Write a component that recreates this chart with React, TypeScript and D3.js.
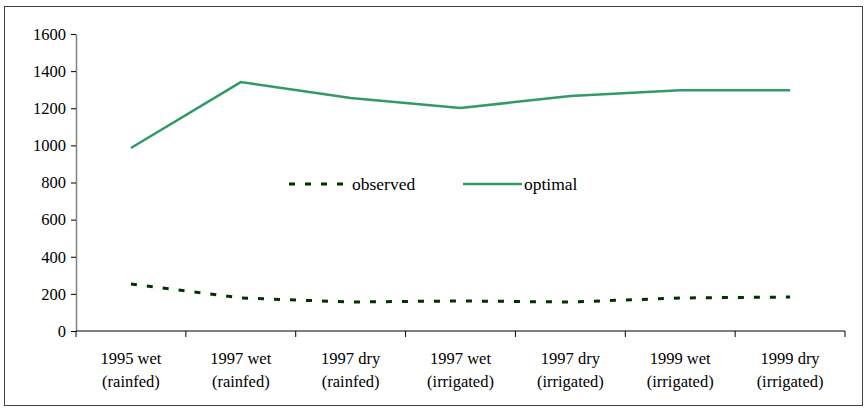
import { useEffect, useRef } from "react";
import * as d3 from "d3";

const categories = [
  ["1995 wet", "(rainfed)"],
  ["1997 wet", "(rainfed)"],
  ["1997 dry", "(rainfed)"],
  ["1997 wet", "(irrigated)"],
  ["1997 dry", "(irrigated)"],
  ["1999 wet", "(irrigated)"],
  ["1999 dry", "(irrigated)"],
];
const observed = [253, 178, 156, 162, 156, 178, 183];
const optimal = [986, 1341, 1255, 1201, 1266, 1297, 1297];
const yTicks = [0, 200, 400, 600, 800, 1000, 1200, 1400, 1600];

const W = 867;
const H = 411;
const FONT = "Liberation Serif, Times New Roman, serif";

export default function App() {
  const svgRef = useRef<SVGSVGElement>(null);

  useEffect(() => {
    document.body.style.margin = "0";
    const svg = d3.select(svgRef.current!);
    svg.selectAll("*").remove();

    const left = 76,
      right = 845,
      top = 34,
      bottom = 331;

    svg
      .append("rect")
      .attr("x", 4.5)
      .attr("y", 6.5)
      .attr("width", 858)
      .attr("height", 399)
      .attr("fill", "#fff")
      .attr("stroke", "#404040")
      .attr("stroke-width", 1);

    const keys = categories.map((_, i) => String(i));
    const x = d3.scaleBand<string>().domain(keys).range([left, right]);
    const y = d3.scaleLinear().domain([0, 1600]).range([bottom, top]);

    // y axis
    const yAxis = svg
      .append("g")
      .attr("transform", `translate(${left},0)`)
      .call(
        d3
          .axisLeft(y)
          .tickValues(yTicks)
          .tickFormat(d3.format("d"))
          .tickSize(5)
          .tickSizeOuter(0)
          .tickPadding(5)
      )
      .attr("font-family", FONT)
      .attr("font-size", 16.5);
    yAxis.select(".domain").attr("stroke", "#808080").attr("stroke-width", 1.5);
    yAxis.selectAll(".tick line").attr("stroke", "#000");
    yAxis.selectAll("text").attr("fill", "#000");

    // x axis
    const xg = svg
      .append("g")
      .attr("transform", `translate(0,${bottom})`)
      .attr("font-family", FONT)
      .attr("font-size", 16.5);
    xg.append("line")
      .attr("x1", left)
      .attr("x2", right)
      .attr("stroke", "#000")
      .attr("stroke-width", 1);
    const bounds = keys.map((k) => x(k)!).concat([right]);
    xg.selectAll("line.tk")
      .data(bounds)
      .enter()
      .append("line")
      .attr("class", "tk")
      .attr("x1", (d) => d)
      .attr("x2", (d) => d)
      .attr("y1", 0)
      .attr("y2", 6)
      .attr("stroke", "#000");
    const labels = xg
      .selectAll("text")
      .data(categories)
      .enter()
      .append("text")
      .attr("text-anchor", "middle")
      .attr("fill", "#000");
    labels.each(function (d, i) {
      const cx = x(String(i))! + x.bandwidth() / 2;
      d.forEach((line, j) => {
        d3.select(this)
          .append("tspan")
          .attr("x", cx)
          .attr("y", 33 + j * 23)
          .text(line);
      });
    });

    const line = d3
      .line<number>()
      .x((_, i) => x(String(i))! + x.bandwidth() / 2)
      .y((d) => y(d));

    svg
      .append("path")
      .attr("d", line(optimal))
      .attr("fill", "none")
      .attr("stroke", "#339966")
      .attr("stroke-width", 2.5);

    svg
      .append("path")
      .attr("d", line(observed))
      .attr("fill", "none")
      .attr("stroke", "#003300")
      .attr("stroke-width", 3)
      .attr("stroke-dasharray", "6,10");

    // legend
    const leg = svg
      .append("g")
      .attr("transform", "translate(0,184)")
      .attr("font-family", FONT)
      .attr("font-size", 17.5);
    leg
      .append("line")
      .attr("x1", 289)
      .attr("x2", 345)
      .attr("stroke", "#003300")
      .attr("stroke-width", 3)
      .attr("stroke-dasharray", "6,10");
    leg.append("text").attr("x", 352).attr("y", 6).text("observed");
    leg
      .append("line")
      .attr("x1", 463)
      .attr("x2", 522)
      .attr("stroke", "#339966")
      .attr("stroke-width", 2.5);
    leg.append("text").attr("x", 524).attr("y", 6).text("optimal");
  }, []);

  return (
    <svg
      ref={svgRef}
      width={W}
      height={H}
      style={{ display: "block", background: "#fff" }}
    />
  );
}
